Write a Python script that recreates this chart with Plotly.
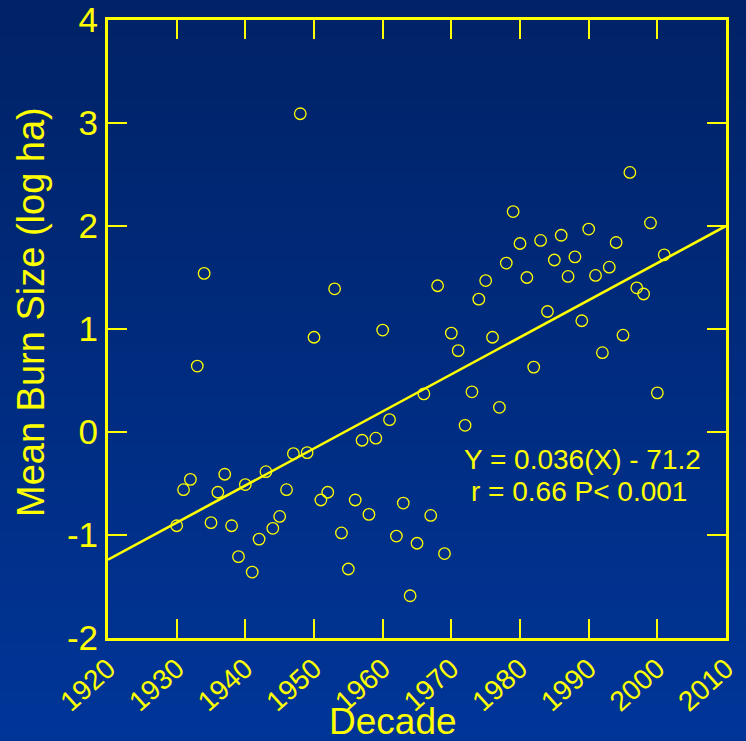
import plotly.graph_objects as go

# ---- data ----
years = list(range(1930, 2002))
burn_size = [
    -0.91, -0.56, -0.46, 0.64, 1.54, -0.88, -0.585, -0.41, -0.91, -1.21,
    -0.51, -1.36, -1.04, -0.385, -0.935, -0.82, -0.56, -0.21, 3.09, -0.20,
    0.92, -0.66, -0.585, 1.39, -0.98, -1.33, -0.66, -0.08, -0.80, -0.06,
    0.99, 0.12, -1.01, -0.69, -1.59, -1.08, 0.37, -0.81, 1.42, -1.18,
    0.96, 0.79, 0.065, 0.39, 1.29, 1.47, 0.92, 0.24, 1.64, 2.14,
    1.83, 1.50, 0.63, 1.86, 1.17, 1.67, 1.91, 1.51, 1.70, 1.08,
    1.97, 1.52, 0.77, 1.60, 1.84, 0.94, 2.52, 1.40, 1.34, 2.03,
    0.38, 1.72,
]
fit_slope = 0.036
fit_intercept = -70.36
fit_x = [1920, 2010]
fit_y = [fit_slope * x + fit_intercept for x in fit_x]

x_ticks = [1920, 1930, 1940, 1950, 1960, 1970, 1980, 1990, 2000, 2010]
y_ticks = [-2, -1, 0, 1, 2, 3, 4]
eq_line1 = "Y = 0.036(X) - 71.2"
eq_line2 = "r = 0.66 P< 0.001"

YEL = "#ffff00"
FONT = "Liberation Sans, Arial, sans-serif"

W, H = 746, 741
ML, MR, MT, MB = 108, 20, 20, 103
PW, PH = W - ML - MR, H - MT - MB

fig = go.Figure()
fig.add_trace(go.Scatter(
    x=fit_x, y=fit_y, mode="lines",
    line=dict(color=YEL, width=2.6), showlegend=False, hoverinfo="skip"))
fig.add_trace(go.Scatter(
    x=years, y=burn_size, mode="markers",
    marker=dict(symbol="circle-open", size=11.5, color=YEL,
                line=dict(color=YEL, width=1.3)),
    showlegend=False))

# background gradient (paper coords)
shapes = []
n = 60
top = (0, 34, 102)
bot = (0, 53, 152)
for i in range(n):
    py0 = H * i / n
    py1 = H * (i + 1) / n + 1
    t = (i + 0.5) / n
    c = tuple(round(top[k] + (bot[k] - top[k]) * t) for k in range(3))
    shapes.append(dict(
        type="rect", xref="paper", yref="paper", layer="below",
        x0=-ML / PW, x1=(W - ML) / PW,
        y0=(H - MB - py1) / PH, y1=(H - MB - py0) / PH,
        fillcolor="rgb(%d,%d,%d)" % c, line=dict(width=0)))

axis_common = dict(
    showline=True, linecolor=YEL, linewidth=3, mirror="ticks",
    ticks="inside", ticklen=19, tickwidth=2.2, tickcolor=YEL,
    showgrid=False, zeroline=False, automargin=False,
)

fig.update_layout(
    width=W, height=H,
    margin=dict(l=ML, r=MR, t=MT, b=MB, autoexpand=False),
    paper_bgcolor="rgb(0,44,128)",
    plot_bgcolor="rgba(0,0,0,0)",
    shapes=shapes,
    xaxis=dict(range=[1920, 2010], tickvals=x_ticks,
               ticktext=[str(v) for v in x_ticks], tickangle=-42,
               tickfont=dict(family=FONT, color=YEL, size=28),
               **axis_common),
    yaxis=dict(range=[-2, 4], tickvals=y_ticks,
               ticktext=[str(v) for v in y_ticks],
               tickfont=dict(family=FONT, color=YEL, size=35),
               **axis_common),
    annotations=[
        dict(text="Mean Burn Size (log ha)", xref="paper", yref="paper",
             x=(31 - ML) / PW, y=(H - MB - 312) / PH, textangle=-90,
             showarrow=False, xanchor="center", yanchor="middle",
             font=dict(family=FONT, size=38, color=YEL)),
        dict(text="Decade", xref="paper", yref="paper",
             x=(393 - ML) / PW, y=(H - MB - 744) / PH,
             showarrow=False, xanchor="center", yanchor="bottom",
             font=dict(family=FONT, size=37, color=YEL)),
        dict(text=eq_line1, xref="paper", yref="paper",
             x=(582 - ML) / PW, y=(H - MB - 459) / PH,
             showarrow=False, xanchor="center", yanchor="middle",
             font=dict(family=FONT, size=28, color=YEL)),
        dict(text=eq_line2, xref="paper", yref="paper",
             x=(579 - ML) / PW, y=(H - MB - 491) / PH,
             showarrow=False, xanchor="center", yanchor="middle",
             font=dict(family=FONT, size=28, color=YEL)),
    ],
)

fig.write_html("out.html")
